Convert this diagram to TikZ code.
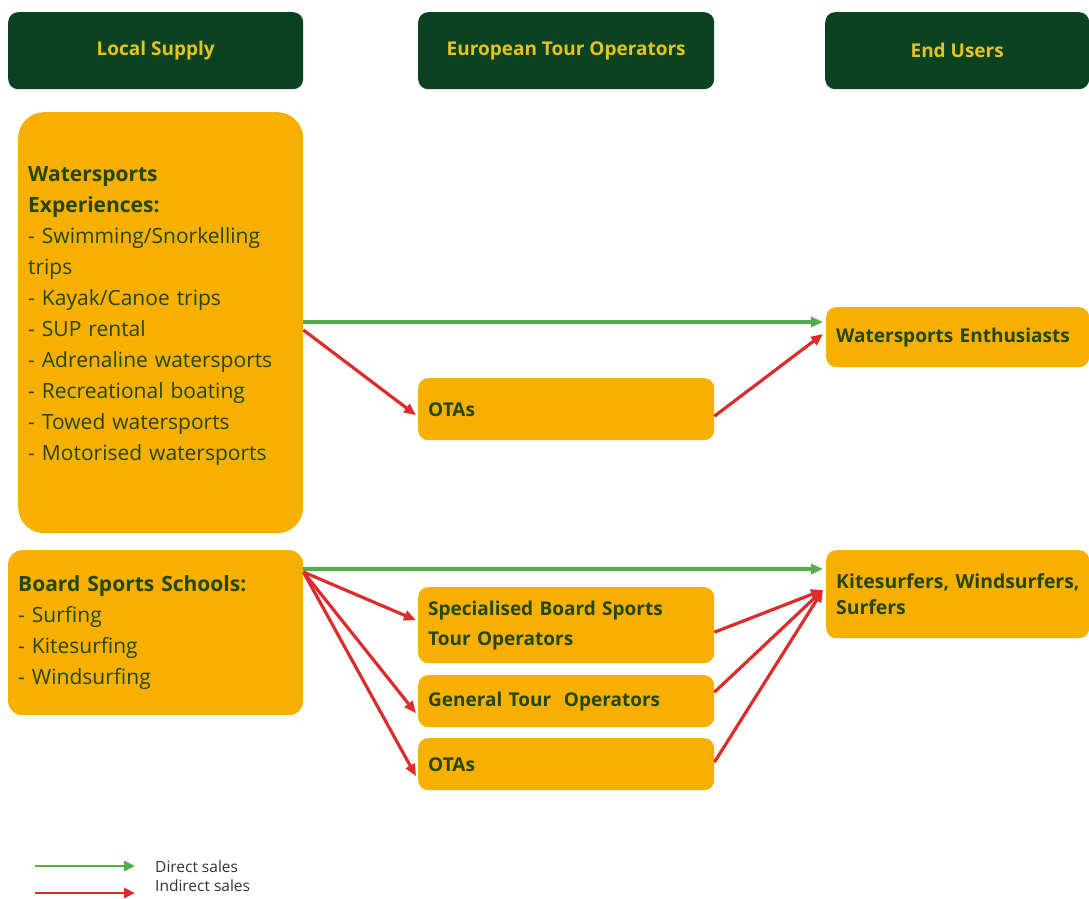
\documentclass[tikz,border=0pt]{standalone}
\usepackage{fontspec}
\setmainfont{Open Sans}
\usetikzlibrary{arrows.meta,calc}
\definecolor{hdrfill}{HTML}{0B4320}
\definecolor{hdrtext}{HTML}{E3C424}
\definecolor{boxfill}{HTML}{F7AF00}
\definecolor{boxtext}{HTML}{24470F}
\definecolor{dgreen}{HTML}{52AE48}
\definecolor{ired}{HTML}{DD2C2C}
\begin{document}
\begin{tikzpicture}[x=1pt,y=-1pt,
  hdr/.style={fill=hdrfill,rounded corners=10pt,anchor=north west,inner sep=0pt,
    text=hdrtext,font=\fontsize{19}{22}\selectfont\bfseries,align=center},
  obox/.style={fill=boxfill,anchor=north west,inner xsep=10pt,inner ysep=0pt,
    text=boxtext,font=\fontsize{19}{31}\selectfont,align=left},
  direct/.style={draw=dgreen,line width=3.2pt,-{Triangle[length=12pt,width=10pt]}},
  indirect/.style={draw=ired,line width=3.2pt,-{Triangle[length=12pt,width=10pt]}},
  lbl/.style={anchor=west,inner sep=0pt,font=\fontsize{15.5}{18}\selectfont,text=black!80}]
\useasboundingbox (0,0) rectangle (1089,899);
% headers
\node[hdr,minimum width=295pt,minimum height=77pt] (h1) at (8,12) {Local Supply};
\node[hdr,minimum width=296pt,minimum height=77pt] (h2) at (418,12) {European Tour Operators};
\node[hdr,minimum width=264pt,minimum height=77pt] (h3) at (825,12) {End Users};
% boxes
\node[obox,rounded corners=26pt,text width=265pt,minimum height=421pt,font=\fontsize{21}{31}\selectfont] (ws) at (18,112)
  {\textbf{Watersports}\\\textbf{Experiences:}\\- Swimming/Snorkelling\\trips\\- Kayak/Canoe trips\\- SUP rental\\- Adrenaline watersports\\- Recreational boating\\- Towed watersports\\- Motorised watersports\\[-13pt]\mbox{}};
\node[obox,rounded corners=10pt,text width=276pt,minimum height=62pt] (ota1) at (418,378)
  {\textbf{OTAs}};
\node[obox,rounded corners=10pt,text width=243pt,minimum height=60pt] (we) at (826,307)
  {\textbf{Watersports Enthusiasts}};
\node[obox,rounded corners=14pt,text width=275pt,minimum height=165pt,font=\fontsize{21}{31}\selectfont] (bs) at (8,550)
  {\textbf{Board Sports Schools:}\\- Surfing\\- Kitesurfing\\- Windsurfing};
\node[obox,rounded corners=10pt,text width=243pt,minimum height=88pt,font=\fontsize{19.4}{26}\selectfont] (ks) at (826,550)
  {\makebox[243pt][l]{\textbf{Kitesurfers, Windsurfers,}}\\\textbf{Surfers}\\[4pt]};
\node[obox,rounded corners=10pt,text width=276pt,minimum height=76pt,font=\fontsize{19}{30}\selectfont] (sp) at (418,587)
  {\textbf{Specialised Board Sports}\\\textbf{Tour Operators}};
\node[obox,rounded corners=10pt,text width=276pt,minimum height=52pt] (gt) at (418,675)
  {\textbf{General Tour\ \ Operators}};
\node[obox,rounded corners=10pt,text width=276pt,minimum height=52pt] (ota2) at (418,738)
  {\textbf{OTAs}};
% connectors: watersports
\draw[direct] ($(ws.north east)+(0,210)$) -- ($(we.north west)+(-3,15)$);
\draw[indirect] ($(ws.north east)+(0,218)$) -- ($(ota1.west)+(-2,6)$);
\draw[indirect] ($(ota1.east)+(0,7)$) -- ($(we.north west)+(-3,27)$);
% connectors: board sports
\coordinate (bsout) at ($(bs.north east)+(0,22)$);
\coordinate (ksin) at ($(ks.north west)+(-3,40)$);
\draw[direct] ($(bs.north east)+(0,19)$) -- ($(ks.north west)+(-3,19)$);
\draw[indirect] (bsout) -- ($(sp.west)+(-2,-5)$);
\draw[indirect] (bsout) -- ($(gt.west)+(-2,12)$);
\draw[indirect] (bsout) -- ($(ota2.west)+(-2,12)$);
\draw[indirect] ($(sp.east)+(0,7)$) -- (ksin);
\draw[indirect] ($(gt.east)+(0,-9)$) -- (ksin);
\draw[indirect] ($(ota2.east)+(0,-2)$) -- (ksin);
% legend
\coordinate (l1a) at (35,866);
\coordinate (l1b) at (135,866);
\coordinate (l2a) at (35,893);
\coordinate (l2b) at (135,893);
\draw[direct,line width=2.8pt,-{Triangle[length=11pt,width=10pt]}] (l1a) -- (l1b);
\draw[indirect,line width=2.8pt,-{Triangle[length=11pt,width=10pt]}] (l2a) -- (l2b);
\node[lbl] (t1) at (155,867) {Direct sales};
\node[lbl] (t2) at (155,886) {Indirect sales};
\end{tikzpicture}
\end{document}
